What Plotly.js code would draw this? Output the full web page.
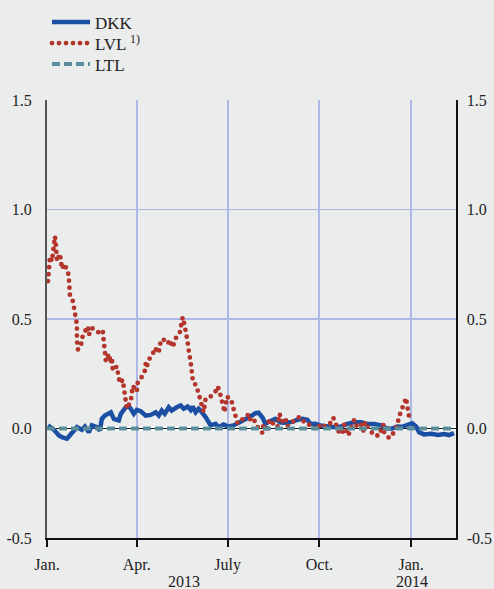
<!DOCTYPE html>
<html>
<head>
<meta charset="utf-8">
<script src="https://cdn.plot.ly/plotly-3.0.1.min.js"></script>
<style>
html,body{margin:0;padding:0;background:#ebecec;}
#chart{width:494px;height:589px;}
.lvl-dots path.js-line{stroke-linecap:round !important;}
</style>
</head>
<body>
<div id="chart"></div>
<script>
// ---- data ----
const dkkDates = ['2013-01-02','2013-01-08','2013-01-13','2013-01-16','2013-01-21','2013-01-26','2013-01-31','2013-02-05','2013-02-08','2013-02-12','2013-02-15','2013-02-20','2013-02-23','2013-02-25','2013-02-28','2013-03-06','2013-03-09','2013-03-14','2013-03-16','2013-03-21','2013-03-24','2013-03-26','2013-03-29','2013-04-01','2013-04-05','2013-04-10','2013-04-15','2013-04-20','2013-04-23','2013-04-26','2013-04-29','2013-05-03','2013-05-06','2013-05-11','2013-05-15','2013-05-18','2013-05-22','2013-05-25','2013-05-27','2013-05-30','2013-06-02','2013-06-04','2013-06-07','2013-06-09','2013-06-11','2013-06-14','2013-06-19','2013-06-22','2013-06-27','2013-07-02','2013-07-07','2013-07-14','2013-07-19','2013-07-24','2013-07-29','2013-08-01','2013-08-05','2013-08-08','2013-08-11','2013-08-14','2013-08-18','2013-08-23','2013-08-28','2013-09-04','2013-09-09','2013-09-14','2013-09-19','2013-09-22','2013-09-27','2013-10-02','2013-10-09','2013-10-16','2013-10-23','2013-10-29','2013-11-05','2013-11-12','2013-11-18','2013-11-25','2013-12-02','2013-12-08','2013-12-13','2013-12-18','2013-12-23','2013-12-28','2014-01-02','2014-01-06','2014-01-09','2014-01-14','2014-01-21','2014-01-28','2014-02-03','2014-02-08','2014-02-13'];
const dkkValues = [0.014,-0.006,-0.032,-0.040,-0.047,-0.021,0.006,-0.006,0.009,-0.017,0.014,0.006,-0.009,0.044,0.059,0.074,0.044,0.037,0.067,0.097,0.100,0.090,0.067,0.085,0.079,0.059,0.062,0.074,0.059,0.082,0.067,0.097,0.082,0.097,0.105,0.090,0.100,0.085,0.100,0.074,0.090,0.082,0.067,0.052,0.037,0.014,0.021,0.006,0.018,0.009,0.014,0.030,0.040,0.055,0.070,0.072,0.050,0.021,0.030,0.037,0.044,0.027,0.026,0.030,0.040,0.044,0.040,0.021,0.022,0.014,0.009,0.006,0.009,0.021,0.029,0.029,0.021,0.021,0.014,0.000,0.000,0.009,0.008,0.018,0.024,0.009,-0.017,-0.027,-0.024,-0.030,-0.025,-0.030,-0.021];

const lvlDates = ['2013-01-02','2013-01-03','2013-01-04','2013-01-06','2013-01-07','2013-01-08','2013-01-09','2013-01-10','2013-01-11','2013-01-14','2013-01-16','2013-01-18','2013-01-22','2013-01-23','2013-01-24','2013-01-27','2013-01-28','2013-01-31','2013-01-31','2013-02-01','2013-02-04','2013-02-05','2013-02-08','2013-02-11','2013-02-12','2013-02-15','2013-02-19','2013-02-24','2013-02-26','2013-02-27','2013-03-01','2013-03-04','2013-03-06','2013-03-07','2013-03-08','2013-03-12','2013-03-13','2013-03-15','2013-03-18','2013-03-19','2013-03-20','2013-03-21','2013-03-22','2013-03-26','2013-03-27','2013-03-28','2013-04-01','2013-04-02','2013-04-05','2013-04-09','2013-04-10','2013-04-11','2013-04-13','2013-04-17','2013-04-19','2013-04-23','2013-04-24','2013-04-27','2013-05-02','2013-05-04','2013-05-07','2013-05-09','2013-05-10','2013-05-14','2013-05-15','2013-05-16','2013-05-17','2013-05-19','2013-05-21','2013-05-22','2013-05-23','2013-05-24','2013-05-25','2013-05-26','2013-05-27','2013-05-29','2013-05-30','2013-06-01','2013-06-02','2013-06-03','2013-06-04','2013-06-06','2013-06-07','2013-06-09','2013-06-14','2013-06-19','2013-06-21','2013-06-23','2013-06-25','2013-06-26','2013-06-28','2013-06-29','2013-07-01','2013-07-02','2013-07-05','2013-07-07','2013-07-09','2013-07-11','2013-07-14','2013-07-17','2013-07-20','2013-07-22','2013-07-24','2013-07-27','2013-08-01','2013-08-05','2013-08-06','2013-08-09','2013-08-11','2013-08-14','2013-08-16','2013-08-20','2013-08-22','2013-08-25','2013-08-28','2013-08-30','2013-09-02','2013-09-05','2013-09-09','2013-09-12','2013-09-15','2013-09-19','2013-09-22','2013-09-26','2013-09-29','2013-10-02','2013-10-04','2013-10-08','2013-10-12','2013-10-15','2013-10-18','2013-10-21','2013-10-24','2013-10-26','2013-10-30','2013-11-02','2013-11-05','2013-11-08','2013-11-12','2013-11-14','2013-11-16','2013-11-18','2013-11-22','2013-11-25','2013-11-30','2013-12-04','2013-12-05','2013-12-10','2013-12-15','2013-12-18','2013-12-20','2013-12-22','2013-12-24','2013-12-27','2013-12-28','2013-12-29','2013-12-31'];
const lvlValues = [0.673,0.749,0.785,0.764,0.800,0.839,0.877,0.830,0.764,0.798,0.729,0.752,0.718,0.680,0.607,0.581,0.545,0.474,0.399,0.361,0.374,0.412,0.443,0.466,0.428,0.458,0.451,0.428,0.440,0.367,0.307,0.341,0.298,0.323,0.265,0.283,0.247,0.207,0.222,0.189,0.155,0.120,0.090,0.126,0.158,0.195,0.169,0.210,0.227,0.262,0.298,0.280,0.314,0.338,0.368,0.345,0.382,0.410,0.387,0.405,0.371,0.390,0.412,0.435,0.473,0.485,0.508,0.470,0.432,0.394,0.359,0.338,0.303,0.265,0.227,0.219,0.186,0.174,0.166,0.143,0.120,0.097,0.074,0.136,0.146,0.170,0.192,0.170,0.131,0.090,0.074,0.108,0.146,0.131,0.125,0.090,0.059,0.024,0.037,0.044,0.052,0.067,0.037,0.044,0.000,-0.020,0.021,-0.014,0.029,0.040,0.018,0.006,0.067,0.033,0.049,0.009,0.021,0.029,0.049,0.052,0.033,0.029,0.009,0.000,0.018,0.006,0.000,0.021,0.024,0.049,0.014,-0.021,-0.024,0.018,-0.032,0.006,0.040,0.006,0.018,-0.012,0.029,0.009,-0.012,-0.032,-0.032,0.018,-0.017,-0.044,-0.017,0.014,0.055,0.082,0.105,0.140,0.105,0.067,0.029];

const ltlDates = ['2013-01-01','2014-02-14'];
const ltlValues = [0, 0];

const seriesNames = ['DKK', 'LVL <sup>1)</sup>', 'LTL'];
const tickDates = ['2013-01-01','2013-04-01','2013-07-01','2013-10-01','2014-01-01'];
const tickLabels = ['Jan.','Apr.','July','Oct.','Jan.'];
const yearLabels = ['2013','2014'];
const yearPositions = ['2013-05-18','2014-01-02'];
const yTicks = [-0.5, 0, 0.5, 1.0, 1.5];
const yTickLabels = ['-0.5', '0.0', '0.5', '1.0', '1.5'];

// ---- styling ----
const FONT = 'Liberation Serif, serif';
const BG = '#ebecec';
const GRID = '#aeb8e6';

const traces = [
  {x: dkkDates, y: dkkValues, name: seriesNames[0], type: 'scatter', mode: 'lines',
   line: {color: '#1a4fa4', width: 4.5}},
  {x: lvlDates, y: lvlValues, name: seriesNames[1], type: 'scatter', mode: 'lines',
   line: {color: '#b3352b', width: 4.8, dash: '0px,7px'}},
  {x: ltlDates, y: ltlValues, name: seriesNames[2], type: 'scatter', mode: 'lines',
   line: {color: '#5a8d9a', width: 4, dash: '8px,4px'}}
];

const layout = {
  width: 494, height: 589,
  paper_bgcolor: BG, plot_bgcolor: BG,
  margin: {l: 47, r: 38, t: 100, b: 51, autoexpand: false},
  font: {family: FONT, size: 16, color: '#222'},
  showlegend: true,
  legend: {x: 0, xanchor: 'left', y: 1.218, yanchor: 'top',
           bgcolor: 'rgba(0,0,0,0)', font: {family: FONT, size: 17, color: '#222'},
           tracegroupgap: 0, itemwidth: 38},
  xaxis: {type: 'date', range: ['2013-01-01', '2014-02-15'],
          tickvals: tickDates, ticktext: tickLabels,
          showgrid: true, gridcolor: GRID, gridwidth: 2,
          showline: true, linecolor: '#111', linewidth: 1.5,
          ticks: 'outside', ticklen: 7, tickcolor: '#111', tickwidth: 2,
          ticklabelstandoff: 4,
          tickfont: {family: FONT, size: 16, color: '#222'}, zeroline: false},
  yaxis: {range: [-0.5, 1.5], tickvals: yTicks, ticktext: yTickLabels,
          showgrid: true, gridcolor: GRID, gridwidth: 1.5,
          zeroline: true, zerolinecolor: '#111', zerolinewidth: 1.5,
          showline: true, linecolor: '#555', linewidth: 2,
          ticks: '', ticklabelstandoff: 10,
          tickfont: {family: FONT, size: 16, color: '#222'}},
  yaxis2: {range: [-0.5, 1.5], tickvals: yTicks, ticktext: yTickLabels,
           overlaying: 'y', side: 'right', showgrid: false, zeroline: false,
           showline: true, linecolor: '#111', linewidth: 1.5,
           ticks: '', ticklabelstandoff: 6,
           tickfont: {family: FONT, size: 16, color: '#222'}},
  shapes: [
    {type: 'line', xref: 'paper', x0: 0, x1: 1, yref: 'y', y0: 0, y1: 0,
     line: {color: '#ffffff', width: 5}, layer: 'below'}
  ],
  annotations: yearLabels.map((t, i) => ({
    text: t, x: yearPositions[i], xref: 'x', y: 0, yref: 'paper',
    yanchor: 'top', yshift: -33, showarrow: false,
    font: {family: FONT, size: 16, color: '#222'}
  }))
};

// invisible helper so the right axis is drawn
traces.push({x: [ltlDates[0]], y: [0], yaxis: 'y2', type: 'scatter', mode: 'markers',
             marker: {opacity: 0}, showlegend: false, hoverinfo: 'skip'});

Plotly.newPlot('chart', traces, layout, {displayModeBar: false, staticPlot: true}).then(gd => {
  const tr = gd.querySelectorAll('.scatterlayer .trace');
  if (tr[1]) tr[1].classList.add('lvl-dots');
  const lg = gd.querySelectorAll('.legend .traces');
  if (lg[1]) lg[1].classList.add('lvl-dots');
  gd.querySelectorAll('.lvl-dots path.js-line').forEach(p => p.style.strokeLinecap = 'round');
  // tighten legend row spacing to match the reference (about 21px per row)
  let y0 = null;
  lg.forEach((g, i) => {
    const m = /translate\(\s*([-\d.]+)[ ,]+([-\d.]+)\s*\)/.exec(g.getAttribute('transform') || '');
    if (!m) return;
    if (y0 === null) y0 = parseFloat(m[2]);
    g.setAttribute('transform', 'translate(' + m[1] + ',' + (y0 + i * 21) + ')');
  });
});
</script>
</body>
</html>
